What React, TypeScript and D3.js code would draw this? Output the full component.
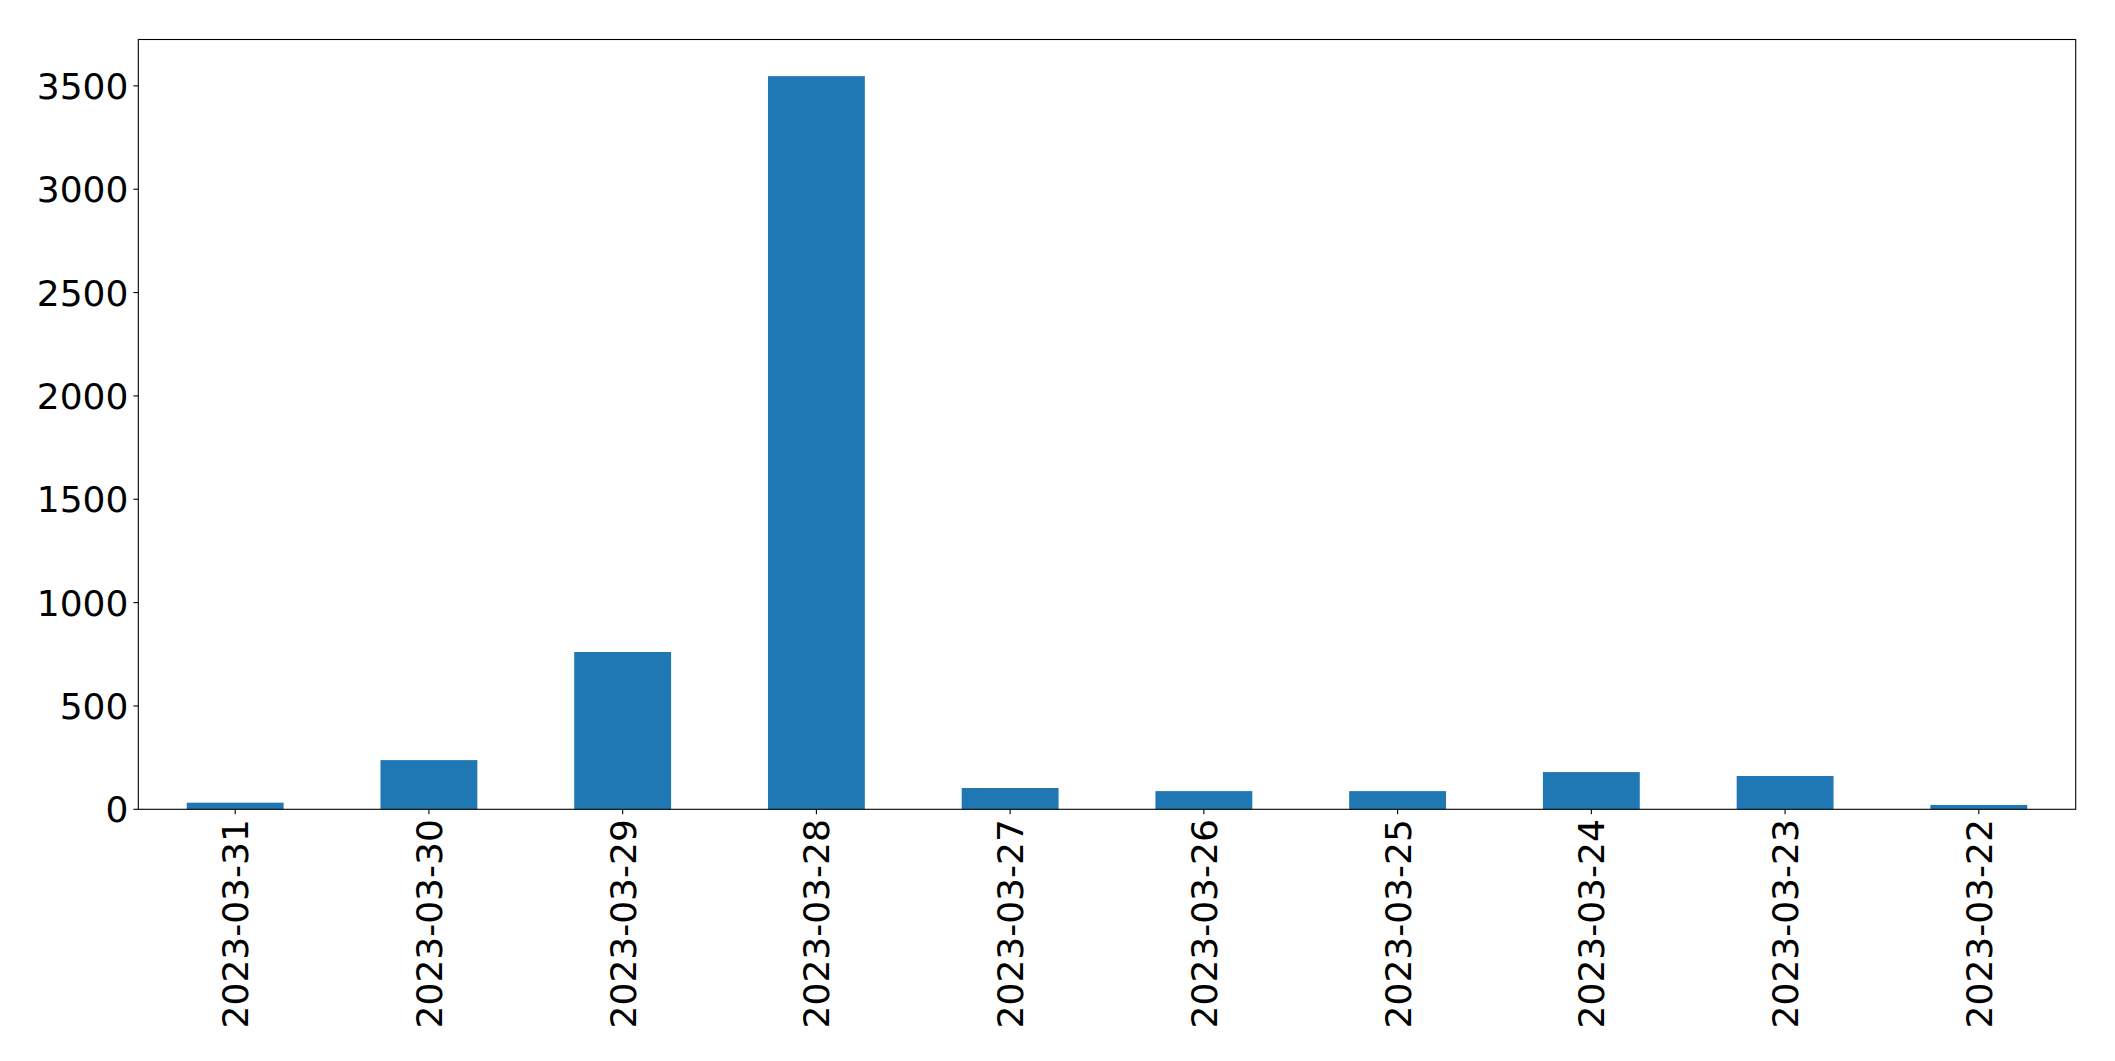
import { useMemo } from "react";
import * as d3 from "d3";

const dates = [
  "2023-03-31",
  "2023-03-30",
  "2023-03-29",
  "2023-03-28",
  "2023-03-27",
  "2023-03-26",
  "2023-03-25",
  "2023-03-24",
  "2023-03-23",
  "2023-03-22",
];
const counts = [32, 238, 761, 3547, 103, 88, 88, 180, 161, 21];
const yTicks = [0, 500, 1000, 1500, 2000, 2500, 3000, 3500];

const W = 2115;
const H = 1061;
const plot = { left: 138.3, right: 2075.7, top: 39.5, bottom: 809.3 };
const FONT = "DejaVu Sans, sans-serif";

export default function App() {
  const { x, y } = useMemo(() => {
    const max = d3.max(counts) ?? 0;
    return {
      x: d3.scaleBand<string>()
        .domain(dates)
        .range([plot.left, plot.right])
        .paddingInner(0.5)
        .paddingOuter(0.25),
      y: d3.scaleLinear().domain([0, max * 1.05]).range([plot.bottom, plot.top]),
    };
  }, []);

  const tickLen = 4.9;

  return (
    <svg
      width={W}
      height={H}
      style={{ position: "absolute", left: 0, top: 0, background: "#fff" }}
      fontFamily={FONT}
    >
      {/* bars */}
      {dates.map((d, i) => (
        <rect
          key={d}
          x={x(d)}
          y={y(counts[i])}
          width={x.bandwidth()}
          height={y(0) - y(counts[i])}
          fill="#1f77b4"
        />
      ))}

      {/* y axis ticks */}
      {yTicks.map((t) => (
        <g key={t} transform={`translate(${plot.left},${y(t)})`}>
          <line x1={-tickLen} x2={0} stroke="#000" strokeWidth={1.1} />
          <text
            x={-tickLen - 5}
            dy="0.36em"
            textAnchor="end"
            fontSize={36}
            fill="#000"
          >
            {t}
          </text>
        </g>
      ))}

      {/* x axis ticks */}
      {dates.map((d) => {
        const cx = (x(d) ?? 0) + x.bandwidth() / 2;
        return (
          <g key={d} transform={`translate(${cx},${plot.bottom})`}>
            <line y1={0} y2={tickLen} stroke="#000" strokeWidth={1.1} />
            <text
              transform={`translate(0,${tickLen + 5}) rotate(-90)`}
              dy="0.36em"
              textAnchor="end"
              fontSize={36}
              fill="#000"
            >
              {d}
            </text>
          </g>
        );
      })}

      {/* frame */}
      <rect
        x={plot.left}
        y={plot.top}
        width={plot.right - plot.left}
        height={plot.bottom - plot.top}
        fill="none"
        stroke="#000"
        strokeWidth={1.1}
      />
    </svg>
  );
}
